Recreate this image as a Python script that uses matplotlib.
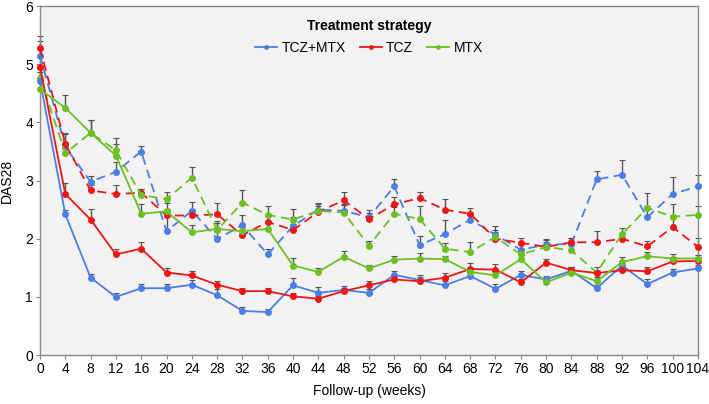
import matplotlib
matplotlib.use("Agg")
import matplotlib.pyplot as plt
import numpy as np

plt.rcParams["font.family"] = ["Liberation Sans", "DejaVu Sans"]

weeks = list(range(0, 105, 4))

# solid lines (group A)
tczmtx_solid = [4.72, 2.42, 1.33, 1.00, 1.15, 1.15, 1.21, 1.03, 0.76, 0.74, 1.20, 1.07,
                1.12, 1.07, 1.38, 1.29, 1.20, 1.36, 1.14, 1.38, 1.30, 1.45, 1.15, 1.54,
                1.22, 1.42, 1.49]
tcz_solid = [4.96, 2.77, 2.33, 1.73, 1.83, 1.42, 1.37, 1.21, 1.10, 1.10, 1.01, 0.97,
             1.10, 1.20, 1.30, 1.27, 1.33, 1.48, 1.47, 1.25, 1.59, 1.46, 1.41, 1.46,
             1.44, 1.61, 1.62]
mtx_solid = [4.57, 4.25, 3.82, 3.43, 2.43, 2.47, 2.11, 2.17, 2.13, 2.17, 1.54, 1.43,
             1.69, 1.49, 1.64, 1.66, 1.65, 1.43, 1.37, 1.65, 1.25, 1.42, 1.27, 1.60,
             1.70, 1.66, 1.66]

# dashed lines (group B)
tczmtx_dash = [5.15, 3.58, 2.98, 3.15, 3.50, 2.13, 2.48, 2.00, 2.23, 1.73, 2.22, 2.50,
               2.48, 2.37, 2.90, 1.89, 2.08, 2.33, 2.07, 1.81, 1.90, 1.91, 3.02, 3.10,
               2.37, 2.77, 2.90]
tcz_dash = [5.28, 3.63, 2.83, 2.77, 2.79, 2.40, 2.40, 2.42, 2.06, 2.29, 2.15, 2.46,
            2.66, 2.34, 2.59, 2.70, 2.50, 2.43, 2.00, 1.93, 1.86, 1.94, 1.94, 2.00,
            1.87, 2.20, 1.86]
mtx_dash = [4.77, 3.47, 3.82, 3.52, 2.75, 2.68, 3.05, 2.15, 2.62, 2.41, 2.33, 2.48,
            2.45, 1.88, 2.43, 2.34, 1.83, 1.77, 2.03, 1.73, 1.86, 1.80, 1.42, 2.08,
            2.53, 2.38, 2.41]

# upper error bars
err_tczmtx_solid = [0.25, 0.08, 0.06, 0.06, 0.08, 0.08, 0.08, 0.10, 0.06, 0.06, 0.12, 0.10,
                    0.06, 0.06, 0.06, 0.08, 0.08, 0.06, 0.08, 0.06, 0.06, 0.06, 0.06, 0.06,
                    0.08, 0.06, 0.06]
err_tcz_solid = [0.30, 0.18, 0.18, 0.10, 0.12, 0.08, 0.07, 0.07, 0.06, 0.05, 0.06, 0.05,
                 0.06, 0.07, 0.08, 0.07, 0.08, 0.10, 0.09, 0.06, 0.06, 0.06, 0.05, 0.06,
                 0.08, 0.07, 0.06]
err_mtx_solid = [0.30, 0.22, 0.22, 0.20, 0.17, 0.15, 0.12, 0.13, 0.10, 0.10, 0.13, 0.07,
                 0.10, 0.06, 0.06, 0.10, 0.06, 0.06, 0.07, 0.07, 0.06, 0.07, 0.08, 0.08,
                 0.08, 0.07, 0.06]
err_tczmtx_dash = [0.25, 0.22, 0.10, 0.17, 0.10, 0.25, 0.15, 0.12, 0.18, 0.10, 0.15, 0.12,
                   0.10, 0.12, 0.12, 0.15, 0.25, 0.10, 0.15, 0.10, 0.10, 0.10, 0.15, 0.25,
                   0.20, 0.30, 0.20]
err_tcz_dash = [0.20, 0.18, 0.10, 0.15, 0.07, 0.12, 0.10, 0.20, 0.08, 0.10, 0.10, 0.10,
                0.15, 0.10, 0.12, 0.10, 0.18, 0.10, 0.12, 0.08, 0.08, 0.08, 0.20, 0.10,
                0.10, 0.20, 0.15]
err_mtx_dash = [0.15, 0.20, 0.22, 0.22, 0.10, 0.12, 0.18, 0.12, 0.22, 0.15, 0.18, 0.12,
                0.15, 0.08, 0.12, 0.22, 0.10, 0.18, 0.12, 0.08, 0.12, 0.12, 0.10, 0.10,
                0.25, 0.22, 0.15]

BLUE, RED, GREEN = "#4a7ee4", "#ee1515", "#6cbf24"

fig = plt.figure(figsize=(7.09, 4.04), dpi=100)
ax = fig.add_axes([0.0564, 0.121, 0.928, 0.864])
ax.set_facecolor("#f2f2f2")

series = [
    (tczmtx_dash, err_tczmtx_dash, BLUE, "--", None),
    (tcz_dash, err_tcz_dash, RED, "--", None),
    (mtx_dash, err_mtx_dash, GREEN, "--", None),
    (tczmtx_solid, err_tczmtx_solid, BLUE, "-", "TCZ+MTX"),
    (tcz_solid, err_tcz_solid, RED, "-", "TCZ"),
    (mtx_solid, err_mtx_solid, GREEN, "-", "MTX"),
]
handles = {}
for y, e, c, ls, lab in series:
    y = np.asarray(y); e = np.asarray(e)
    ax.errorbar(weeks, y, yerr=[np.zeros_like(e), e], fmt="none", ecolor="#555555",
                elinewidth=1.0, capsize=2, capthick=0.8, zorder=2, clip_on=False)
    ln, = ax.plot(weeks, y, ls=ls, color=c, lw=1.3, marker="o", ms=4,
                  zorder=3, clip_on=False, dashes=(5, 3) if ls == "--" else (None, None))
    if lab:
        handles[lab] = ln

ax.set_xlim(0, 104)
ax.set_ylim(0, 6)
ax.set_xticks(weeks)
ax.set_yticks(range(0, 7))
ax.tick_params(labelsize=10, length=3, color="#888888", pad=2)
for s in ax.spines.values():
    s.set_color("#888888")
    s.set_linewidth(1.0)
ax.set_xlabel("Follow-up (weeks)", fontsize=10, labelpad=6)
ax.set_ylabel("DAS28", fontsize=10, labelpad=8)

leg = ax.legend([handles[k] for k in ["TCZ+MTX", "TCZ", "MTX"]],
                ["TCZ+MTX", "TCZ", "MTX"], ncol=3, frameon=False,
                title="Treatment strategy", fontsize=10, loc="upper center",
                bbox_to_anchor=(0.5, 1.0), handlelength=1.6, handletextpad=0.3,
                columnspacing=1.0, markerscale=0.6, labelspacing=0.2)
leg.get_title().set_fontweight("bold")
leg.get_title().set_fontsize(10)
leg._legend_box.sep = 6

fig.savefig("out.png", dpi=100)
